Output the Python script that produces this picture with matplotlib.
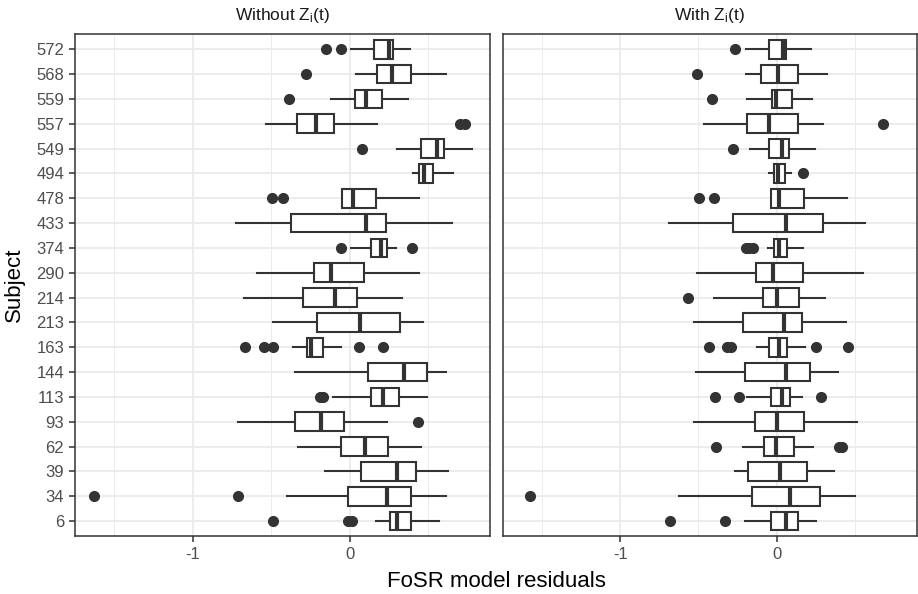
import matplotlib
matplotlib.use("Agg")
import matplotlib.pyplot as plt
from matplotlib.ticker import FixedLocator

plt.rcParams.update(
    {
        "font.family": ["Liberation Sans", "DejaVu Sans"],
        "mathtext.fontset": "custom",
        "mathtext.rm": "Liberation Sans",
        "mathtext.it": "Liberation Sans:italic",
    }
)

subjects = ["6", "34", "39", "62", "93", "113", "144", "163", "213", "214",
            "290", "374", "433", "478", "494", "549", "557", "559", "568", "572"]
panel_titles = [r"Without $\mathregular{Z_i(t)}$", r"With $\mathregular{Z_i(t)}$"]
x_ticks = [-1, 0]
x_minor = [-1.5, -0.5, 0.5]

# without Z_i(t): whisker low, q1, median, q3, whisker high (bottom to top)
wo_lo = [0.170, -0.400, -0.157, -0.332, -0.711, -0.104, -0.351, -0.360, -0.487, -0.672,
         -0.594, 0.006, -0.724, -0.047, 0.404, 0.304, -0.534, -0.121, 0.040, 0.011]
wo_q1 = [0.257, -0.009, 0.072, -0.055, -0.347, 0.139, 0.117, -0.270, -0.206, -0.298,
         -0.228, 0.136, -0.372, -0.047, 0.443, 0.458, -0.334, 0.034, 0.172, 0.155]
wo_med = [0.300, 0.241, 0.304, 0.096, -0.185, 0.213, 0.347, -0.245, 0.064, -0.096,
          -0.117, 0.198, 0.107, 0.021, 0.471, 0.560, -0.213, 0.107, 0.273, 0.251]
wo_q3 = [0.394, 0.390, 0.424, 0.245, -0.034, 0.315, 0.492, -0.168, 0.319, 0.045,
         0.091, 0.241, 0.234, 0.168, 0.534, 0.602, -0.100, 0.204, 0.390, 0.279]
wo_hi = [0.570, 0.613, 0.628, 0.453, 0.241, 0.496, 0.613, -0.057, 0.468, 0.336,
         0.443, 0.294, 0.651, 0.443, 0.660, 0.779, 0.177, 0.375, 0.613, 0.385]
wo_out = [[-0.487, -0.013, 0.012], [-1.630, -0.711], [], [], [0.434], [-0.190, -0.170],
          [], [-0.670, -0.547, -0.487, 0.059, 0.215], [], [], [], [-0.057, 0.396], [],
          [-0.494, -0.426], [], [0.077], [0.705, 0.734], [-0.385], [-0.281], [-0.149, -0.057]]

# with Z_i(t)
wi_lo = [-0.200, -0.626, -0.270, -0.217, -0.530, -0.189, -0.519, -0.125, -0.528, -0.404,
         -0.508, -0.055, -0.690, -0.040, -0.051, -0.168, -0.468, -0.189, -0.196, -0.196]
wi_q1 = [-0.038, -0.160, -0.183, -0.079, -0.142, -0.034, -0.200, -0.047, -0.213, -0.085,
         -0.136, -0.021, -0.281, -0.040, -0.019, -0.053, -0.191, -0.030, -0.098, -0.053]
wi_med = [0.056, 0.087, 0.021, -0.004, 0.000, 0.030, 0.060, 0.013, 0.049, 0.000,
          -0.026, 0.013, 0.060, 0.017, 0.006, 0.034, -0.051, -0.004, 0.009, 0.038]
wi_q3 = [0.136, 0.277, 0.190, 0.107, 0.172, 0.086, 0.213, 0.066, 0.162, 0.143,
         0.168, 0.068, 0.296, 0.175, 0.051, 0.081, 0.136, 0.100, 0.134, 0.060]
wi_hi = [0.251, 0.496, 0.362, 0.234, 0.511, 0.158, 0.392, 0.183, 0.443, 0.305,
         0.549, 0.170, 0.560, 0.449, 0.092, 0.241, 0.294, 0.226, 0.322, 0.220]
wi_out = [[-0.679, -0.330], [-1.577], [], [-0.387, 0.396, 0.417], [], [-0.396, -0.243, 0.285],
          [], [-0.436, -0.320, -0.290, 0.251, 0.456], [], [-0.568], [], [-0.196, -0.175, -0.155],
          [], [-0.498, -0.402], [0.166], [-0.281], [0.677], [-0.413], [-0.508], [-0.264]]

DARK = "#333333"
GRID = "#EBEBEB"

fig = plt.figure(figsize=(9.18, 5.94), dpi=100)
W, H = 918, 594
top_px, bot_px = 34.3, 536
bottom = 1 - bot_px / H
height = (bot_px - top_px) / H
ax_left = fig.add_axes([75.3 / W, bottom, (490 - 75.3) / W, height])
ax_right = fig.add_axes([502.7 / W, bottom, (917 - 502.7) / W, height])

panels = [
    (ax_left, wo_lo, wo_q1, wo_med, wo_q3, wo_hi, wo_out),
    (ax_right, wi_lo, wi_q1, wi_med, wi_q3, wi_hi, wi_out),
]
positions = list(range(1, len(subjects) + 1))

for i, (ax, lo, q1, med, q3, hi, out) in enumerate(panels):
    stats = [
        {"whislo": a, "q1": b, "med": c, "q3": d, "whishi": e, "fliers": f}
        for a, b, c, d, e, f in zip(lo, q1, med, q3, hi, out)
    ]
    ax.bxp(
        stats,
        positions=positions,
        widths=0.75,
        orientation="horizontal",
        patch_artist=True,
        showcaps=False,
        boxprops={"facecolor": "white", "edgecolor": DARK, "linewidth": 1.5},
        whiskerprops={"color": DARK, "linewidth": 1.5},
        medianprops={"color": DARK, "linewidth": 3.0, "solid_capstyle": "butt"},
        flierprops={"marker": "o", "markerfacecolor": DARK, "markeredgecolor": DARK,
                    "markersize": 7, "linestyle": "none"},
        zorder=3,
    )
    ax.set_xlim(-1.75, 0.895)
    ax.set_ylim(0.4, len(subjects) + 0.6)
    ax.xaxis.set_major_locator(FixedLocator(x_ticks))
    ax.xaxis.set_minor_locator(FixedLocator(x_minor))
    ax.set_xticklabels([str(t) for t in x_ticks])
    ax.set_yticks(positions)
    ax.set_yticklabels(subjects if i == 0 else [])
    ax.grid(True, which="major", color=GRID, linewidth=1.3, zorder=0)
    ax.grid(True, which="minor", axis="x", color=GRID, linewidth=0.7, zorder=0)
    ax.set_axisbelow(True)
    ax.tick_params(axis="both", which="major", length=4.2, width=1.1, color=DARK,
                   labelsize=12, labelcolor="#4D4D4D", pad=3.8)
    ax.tick_params(axis="x", which="minor", length=0)
    if i == 1:
        ax.tick_params(axis="y", length=0)
    for sp in ax.spines.values():
        sp.set_color(DARK)
        sp.set_linewidth(1.1)
    ax.text(0.5, 1 + (top_px - 19.5) / (bot_px - top_px), panel_titles[i],
            transform=ax.transAxes, ha="center", va="baseline", fontsize=12.5,
            color="#1A1A1A")

fig.text(496 / W, 1 - 587 / H, "FoSR model residuals", ha="center", va="baseline",
         fontsize=16, color="black")
fig.text(14 / W, 1 - 285 / H, "Subject", ha="center", va="center", rotation=90,
         fontsize=16, color="black")

fig.savefig("out.png", dpi=100)
